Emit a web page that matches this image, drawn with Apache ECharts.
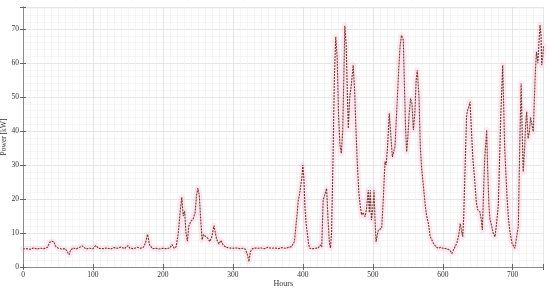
<!DOCTYPE html>
<html>
<head>
<meta charset="utf-8">
<script src="https://cdn.jsdelivr.net/npm/echarts@6/dist/echarts.min.js"></script>
<style>
  html, body { margin: 0; padding: 0; background: #fff; }
  #chart { width: 550px; height: 290px; }
</style>
</head>
<body>
<div id="chart"></div>
<script>
// hours
var hours = [
  0, 5, 10, 15, 20, 25, 30, 35, 38, 41, 44, 47, 50, 55, 60, 63, 66, 68, 72, 76,
  80, 85, 90, 95, 100, 104, 108, 115, 120, 125, 130, 135, 140, 145, 150, 153, 158, 163, 168, 172,
  175, 178, 181, 185, 190, 195, 200, 205, 210, 213, 216, 219, 222, 225, 227, 229, 231, 233, 235, 237,
  240, 243, 246, 248, 250, 252, 254, 256, 258, 261, 264, 267, 270, 273, 275, 277, 280, 283, 286, 290,
  295, 300, 305, 310, 315, 318, 321, 323, 325, 328, 332, 336, 340, 345, 350, 355, 360, 365, 370, 375,
  380, 384, 386, 388, 390, 392, 393.5, 395, 397, 398.5, 400, 401.5, 403, 405, 406.5, 408, 410, 414, 418, 422,
  425, 427, 429, 431, 434, 436, 438, 439.5, 441, 443, 445, 447, 449, 451, 453, 455, 457, 459, 460, 462,
  464, 465, 467, 469, 472, 474, 476, 478, 480, 482, 484, 486, 489, 491, 493.5, 495, 496.5, 498, 500, 501.7,
  503, 504.6, 506, 508, 512.7, 515, 517.4, 519, 521, 523.6, 526, 528, 530, 531.7, 534, 537, 539, 541, 543.6, 545,
  547, 548.4, 550, 552, 554, 556, 558, 560, 562, 563.6, 566, 568, 570, 572, 575, 577, 579.5, 582, 586.6, 590,
  593.6, 597, 600, 605, 610, 613, 616, 620, 623, 625, 627, 628.5, 630, 632, 634, 635, 637, 639, 641, 643,
  646, 648, 650, 653, 655, 656.6, 658, 660, 662.8, 664, 666, 667.5, 670, 672, 674.7, 677, 679.4, 681, 683, 685.7,
  687, 688.5, 690.4, 692, 694, 696, 699, 703, 705.7, 708, 710, 712, 713.5, 715, 717, 718.5, 720, 722, 724, 725.5,
  727, 729.4, 731, 732.5, 734, 736, 737.5, 739, 740.5, 741.4, 743, 744
];

// power [kW] at those hours
var power = [
  5.3, 5.4, 5.2, 5.6, 5.3, 5.5, 5.4, 5.8, 7.2, 7.6, 7.4, 6.0, 5.6, 5.3, 5.4, 4.6, 3.6, 5.0, 5.6, 5.3,
  5.7, 6.2, 5.3, 5.5, 5.4, 6.3, 5.5, 5.4, 5.6, 5.3, 5.7, 5.5, 5.9, 5.4, 6.3, 5.5, 5.4, 5.8, 5.5, 5.8,
  7.0, 9.6, 6.5, 5.4, 5.5, 5.3, 5.5, 5.4, 5.6, 6.6, 5.5, 6.0, 10, 17, 20.5, 15, 16.5, 10, 7.6, 12,
  13.5, 14, 16, 21, 23.2, 21, 14, 8, 9.5, 9, 8.5, 7.5, 9, 12.2, 10, 8, 6.8, 7.8, 6.5, 5.8,
  5.6, 5.5, 5.6, 5.4, 5.5, 5.2, 3.5, 1.6, 4.5, 5.4, 5.6, 5.5, 5.6, 5.4, 5.8, 5.5, 5.6, 5.4, 5.7, 5.5,
  5.8, 6.0, 6.5, 7.5, 11.9, 16, 19.7, 21, 24, 26, 30, 26, 17.7, 12, 9.9, 7, 5.5, 5.4, 5.5, 5.6,
  6.5, 5.9, 19.7, 21, 23.1, 14, 7, 5.6, 10, 30, 55, 67.7, 62, 45, 36, 33.4, 40, 60, 71, 65,
  48, 40.8, 50, 53, 59.4, 52, 40, 30, 22, 18, 15.3, 16, 14.8, 17, 22.6, 16, 22.6, 13.8, 17, 22.6,
  15, 7.4, 9, 10.9, 11.4, 20, 31, 30, 35, 45.2, 38, 32.4, 34, 35.4, 45, 58, 65, 68.2, 66.8, 55,
  40, 33.9, 38, 45, 49.6, 48, 40.3, 45, 55, 57.9, 50, 35, 28.5, 24.6, 18, 15, 12.8, 9, 7, 6,
  5.5, 5.8, 5.5, 5.4, 5.0, 4.0, 5.3, 7, 9.5, 12.8, 10.5, 8.9, 15, 30, 44, 45.7, 47, 48.6, 40, 32,
  24.6, 19, 16.8, 16.3, 14, 10.9, 20, 32, 40.3, 30, 18, 14, 12, 10, 8.9, 13, 18.2, 30, 45, 59.4,
  48, 35, 27, 20, 14, 10.4, 7, 5.5, 5.8, 12, 35, 54, 40, 28, 35, 42, 45.7, 37.8, 40, 44,
  43.7, 39.8, 50, 58, 63.3, 60, 66, 71.2, 68, 59.4, 62, 65
];

var xTicks = [0, 100, 200, 300, 400, 500, 600, 700];
var yTicks = [0, 10, 20, 30, 40, 50, 60, 70];

var pts = hours.map(function(h, i) { return [h, power[i]]; });

var chart = echarts.init(document.getElementById('chart'));

var labelFont = { fontFamily: 'Liberation Serif', fontSize: 7.5, color: '#333' };

function axisBase(max, interval, minorSplit, show) {
  return {
    type: 'value',
    min: 0,
    max: max,
    interval: interval,
    axisLine: { show: true, lineStyle: { color: '#8a8a8a', width: 1 } },
    axisTick: { show: true, inside: true, length: 3, lineStyle: { color: '#666' } },
    minorTick: { show: false, splitNumber: minorSplit },
    splitLine: { show: show, lineStyle: { color: '#dedede', width: 0.8 } },
    minorSplitLine: { show: show, lineStyle: { color: '#f0f0f0', width: 0.6 } },
    axisLabel: { show: show }
  };
}

var xBottom = axisBase(744, 100, 10, true);
xBottom.position = 'bottom';
xBottom.name = 'Hours';
xBottom.nameLocation = 'middle';
xBottom.nameGap = 13;
xBottom.nameMoveOverlap = false;
xBottom.nameTextStyle = { fontFamily: 'Liberation Serif', fontSize: 8, color: '#333' };
xBottom.axisLabel = Object.assign({ show: true, margin: 4,
  formatter: function(v) { return xTicks.indexOf(v) >= 0 ? v : ''; } }, labelFont);

var xTop = axisBase(744, 100, 10, false);
xTop.position = 'top';

var yLeft = axisBase(76.5, 10, 5, true);
yLeft.position = 'left';
yLeft.name = 'Power [kW]';
yLeft.nameLocation = 'middle';
yLeft.nameGap = 15;
yLeft.nameMoveOverlap = false;
yLeft.nameTextStyle = { fontFamily: 'Liberation Serif', fontSize: 7.5, color: '#333' };
yLeft.axisLabel = Object.assign({ show: true, margin: 4,
  formatter: function(v) { return yTicks.indexOf(v) >= 0 ? v : ''; } }, labelFont);

var yRight = axisBase(76.5, 10, 5, false);
yRight.position = 'right';

var option = {
  backgroundColor: '#fff',
  animation: false,
  grid: { left: 23, right: 6.5, top: 7, bottom: 23, containLabel: false, outerBoundsMode: 'none' },
  xAxis: [xBottom, xTop],
  yAxis: [yLeft, yRight],
  series: [{
    // pink envelope round the curve
    type: 'line',
    data: pts,
    symbol: 'none',
    silent: true,
    lineStyle: { color: 'rgba(255, 175, 212, 0.28)', width: 6, join: 'round', cap: 'round' },
    z: 1
  }, {
    name: 'Power',
    type: 'line',
    data: pts,
    symbol: 'none',
    lineStyle: { color: '#74392a', width: 1.1, type: [2, 1] },
    z: 3
  }]
};

chart.setOption(option);
</script>
</body>
</html>
